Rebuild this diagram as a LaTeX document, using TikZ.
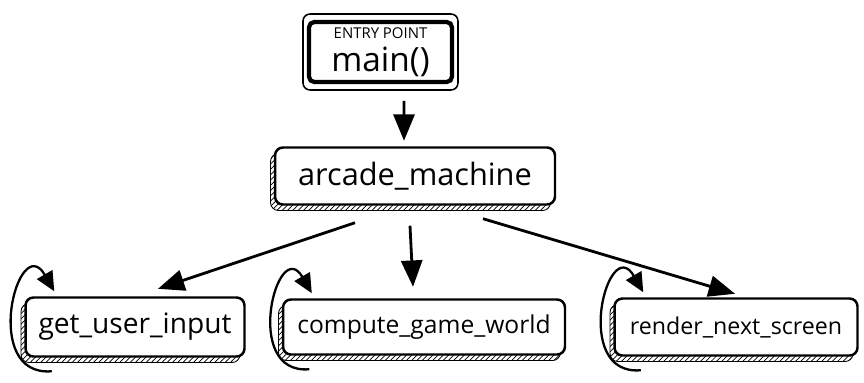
\documentclass[tikz,border=0pt]{standalone}
\usepackage{fontspec}
\setmainfont{Open Sans}
\usetikzlibrary{arrows.meta,calc,positioning,patterns,shadows}

\begin{document}
\begin{tikzpicture}[x=0.02cm, y=-0.02cm, every node/.style={font=\fontsize{14}{17}\selectfont},
  kutu/.style={draw=black,fill=white,line width=1.4pt,rounded corners=4.5pt,
               inner sep=0pt,align=center,
               general shadow={shadow xshift=-0.09cm,shadow yshift=-0.12cm,
                               draw=black,line width=0.5pt,fill=none,
                               pattern=north east lines}},
  girisDis/.style={draw=black,line width=0.9pt,rounded corners=4pt,
               minimum width=3.1cm,minimum height=1.52cm},
  giris/.style={draw=black,fill=white,line width=2.4pt,rounded corners=3pt,
               minimum width=2.86cm,minimum height=1.2cm,align=center,inner sep=0pt},
  ok/.style={-{Triangle[length=15pt,width=12pt]},line width=1.6pt},
  dongu/.style={-{Triangle[length=11pt,width=10pt]},line width=1.3pt}]
\useasboundingbox (0,0) rectangle (864,382);
% giris noktasi
\node[girisDis] (giso) at (380.5,52) {};
\node[giris] (gis) at (380.5,52) {{\fontsize{8.5}{11}\selectfont ENTRY POINT}\\[2pt] {\fontsize{19}{20}\selectfont main()}};
% ana dongu
\node[kutu,minimum width=5.6cm,minimum height=1.14cm] (am) at (415,176) {\fontsize{17.5}{20}\selectfont arcade\_machine};
% alt gorevler
\node[kutu,minimum width=4.38cm,minimum height=1.18cm] (gui) at (135,327) {\fontsize{16}{18}\selectfont get\_user\_input};
\node[kutu,minimum width=5.64cm,minimum height=1.10cm] (cgw) at (424,327) {compute\_game\_world};
\node[kutu,minimum width=4.86cm,minimum height=1.14cm] (rns) at (736,327) {\fontsize{13.2}{16}\selectfont render\_next\_screen};
% oklar
\draw[ok] ([xshift=0.47cm,yshift=-0.2cm]giso.south) -- ([xshift=-0.22cm,yshift=0.11cm]am.north);
\draw[ok] ([xshift=-1.2cm,yshift=-0.34cm]am.south) -- ([xshift=0.46cm,yshift=0.15cm]gui.north);
\draw[ok] ([xshift=-0.1cm,yshift=-0.4cm]am.south) -- ([xshift=-0.22cm,yshift=0.23cm]cgw.north);
\draw[ok] ([xshift=1.36cm,yshift=-0.26cm]am.south) -- ([xshift=-0.02cm,yshift=0.07cm]rns.north);
% kendi kendine donguler
\foreach \n in {gui,cgw,rns}
  \draw[dongu] ([xshift=0.55cm,yshift=-0.27cm]\n.south west)
    to[out=185,in=120,looseness=2.3] ([xshift=0.6cm,yshift=0.1cm]\n.north west);
\end{tikzpicture}
\end{document}
